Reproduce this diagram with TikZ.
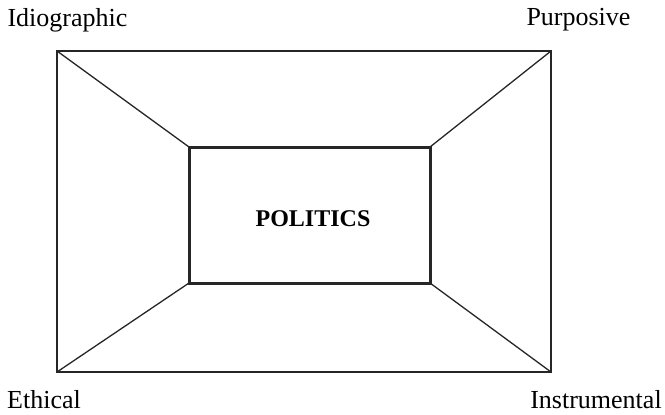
\documentclass[tikz,border=0pt]{standalone}
\usepackage{fontspec}
\setmainfont{Liberation Serif}
\begin{document}
\begin{tikzpicture}[x=0.5pt,y=-0.5pt,
  thinline/.style={line width=0.65pt, draw=black!85},
  thickline/.style={line width=1.5pt, draw=black!85},
  lbl/.style={font=\fontsize{13}{15}\selectfont, inner sep=0pt, anchor=base},
  centerbox/.style={thickline, rectangle, minimum width=120.5pt, minimum height=68pt,
    inner sep=0pt, outer sep=0pt, text height=11pt, text depth=0pt,
    font=\fontsize{12}{14}\selectfont\bfseries},
]
\useasboundingbox (0,0) rectangle (665,414);
\coordinate (tl) at (57,51);
\coordinate (tr) at (551,51);
\coordinate (br) at (551,372);
\coordinate (bl) at (57,372);
\draw[thinline] (tl) -- (tr) -- (br) -- (bl) -- cycle;
\node[centerbox] (politics) at (309.5,215) {\hspace*{3.5pt}POLITICS};
\draw[thinline] (tl) -- (politics.north west);
\draw[thinline] (tr) -- (politics.north east);
\draw[thinline] (br) -- (politics.south east);
\draw[thinline] (bl) -- (politics.south west);
\node[lbl] (idio) at (67.5,26) {Idiographic};
\node[lbl] (purp) at (578.5,25) {Purposive};
\node[lbl] (eth) at (44,408) {Ethical};
\node[lbl] (instr) at (596,408) {Instrumental};
\end{tikzpicture}
\end{document}
